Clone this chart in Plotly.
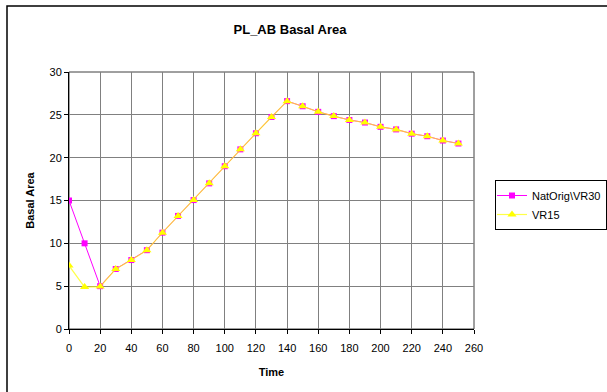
import plotly.graph_objects as go

time = [0, 10, 20, 30, 40, 50, 60, 70, 80, 90, 100, 110, 120, 130, 140, 150, 160, 170, 180, 190, 200, 210, 220, 230, 240, 250]
natorig_vr30 = [15.0, 10.0, 5.0, 7.0, 8.05, 9.2, 11.25, 13.2, 15.05, 17.0, 19.0, 20.97, 22.85, 24.75, 26.6, 26.0, 25.35, 24.85, 24.4, 24.1, 23.6, 23.3, 22.8, 22.5, 22.0, 21.65]
vr15 = [7.4, 4.9, 4.95, 7.0, 8.05, 9.2, 11.25, 13.2, 15.05, 17.0, 19.0, 20.97, 22.85, 24.75, 26.6, 26.0, 25.35, 24.85, 24.4, 24.1, 23.6, 23.3, 22.8, 22.5, 22.0, 21.65]
x_ticks = list(range(0, 261, 20))
y_ticks = list(range(0, 31, 5))

fig = go.Figure()
fig.add_trace(go.Scatter(
    x=time, y=natorig_vr30, name="NatOrig\\VR30", mode="lines+markers",
    line=dict(color="#FF00FF", width=1),
    marker=dict(symbol="square", size=6, color="#FF00FF"),
))
fig.add_trace(go.Scatter(
    x=time, y=vr15, name="VR15", mode="lines+markers",
    line=dict(color="rgba(255,255,0,0.72)", width=1.2),
    marker=dict(symbol="triangle-up", size=8, color="#FFFF00"),
))

L, R, T, B = 69, 133, 72, 63
W, H = 607, 392
pw, ph = W - L - R, H - T - B

fig.update_layout(
    width=W, height=H,
    margin=dict(l=L, r=R, t=T, b=B, pad=0, autoexpand=False),
    paper_bgcolor="white", plot_bgcolor="white",
    font=dict(family="Liberation Sans, Arial, sans-serif", size=11, color="black"),
    title=dict(text="<b>PL_AB Basal Area</b>", x=(290) / W, xanchor="center",
               y=1 - 29 / H, yanchor="middle", font=dict(size=13, color="black")),
    legend=dict(x=(495 - L) / pw, y=1 - (180 - T) / ph, xanchor="left", yanchor="top",
                bgcolor="white", bordercolor="black", borderwidth=1,
                font=dict(size=11, color="black"), tracegroupgap=0,
                itemwidth=30, indentation=-4),
    showlegend=True,
)
fig.update_xaxes(
    range=[0, 260], tickvals=x_ticks, ticktext=[str(v) for v in x_ticks],
    showgrid=True, gridcolor="#808080", gridwidth=1,
    showline=True, linecolor="black", linewidth=1, mirror=False,
    ticks="outside", ticklen=4, tickcolor="black", ticklabelstandoff=5,
    zeroline=False,
    title=dict(text="<b>Time</b>", standoff=15, font=dict(size=11)),
)
fig.update_yaxes(
    range=[0, 30], tickvals=y_ticks, ticktext=[str(v) for v in y_ticks],
    showgrid=True, gridcolor="#808080", gridwidth=1,
    showline=True, linecolor="black", linewidth=1,
    ticks="outside", ticklen=4, tickcolor="black",
    zeroline=False,
    title=dict(text="<b>Basal Area</b>", standoff=12, font=dict(size=11)),
)
# plot area frame (top/right)
fig.add_shape(type="rect", xref="paper", yref="paper", x0=0, y0=0, x1=1, y1=1,
              line=dict(color="#404040", width=1), layer="below")
# outer chart border
fig.add_shape(type="rect", xref="paper", yref="paper",
              x0=(7 - L) / pw, y0=-(420 - (H - B)) / ph,
              x1=(640 - L) / pw, y1=1 + (T - 6) / ph,
              line=dict(color="black", width=1.5))

fig.write_html("out.html", config={"displayModeBar": False},
               post_script="document.body.style.margin='0';document.body.style.overflow='hidden';")
